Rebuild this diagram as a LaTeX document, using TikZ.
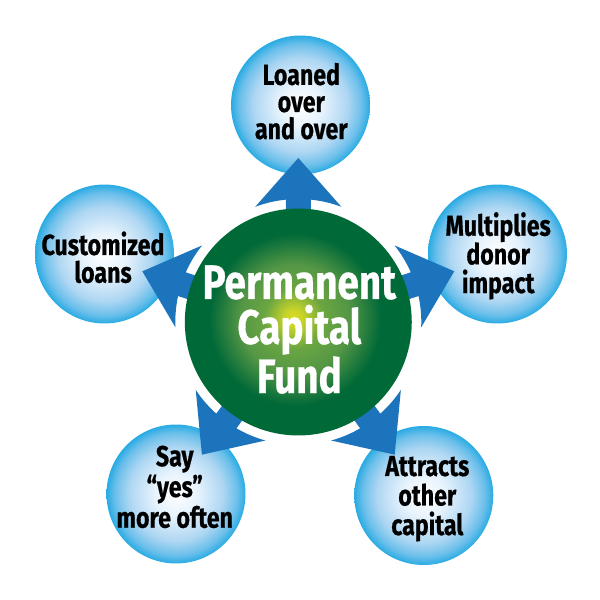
\documentclass[tikz,border=0pt]{standalone}
\usepackage{fontspec}
\setmainfont[FakeStretch=0.8, BoldFeatures={FakeBold=0.6}]{Fira Sans}
\usetikzlibrary{calc}
\definecolor{arrowblue}{RGB}{28,117,188}
\pgfdeclareradialshading{bubble}{\pgfpointorigin}{
  rgb(0bp)=(1,1,1);
  rgb(8bp)=(0.90,0.95,0.99);
  rgb(17bp)=(0.68,0.84,0.95);
  rgb(22bp)=(0.42,0.75,0.92);
  rgb(25bp)=(0.16,0.67,0.89);
  rgb(50bp)=(0.16,0.67,0.89)}
\pgfdeclareradialshading{glow}{\pgfpoint{-1.1bp}{0.9bp}}{
  rgb(0bp)=(0.87,0.87,0.12);
  rgb(2bp)=(0.78,0.83,0.16);
  rgb(6.5bp)=(0.42,0.65,0.26);
  rgb(12bp)=(0.33,0.59,0.27);
  rgb(19bp)=(0,0.41,0.22);
  rgb(50bp)=(0,0.41,0.22)}
\tikzset{
  bubble/.style={circle, minimum size=2.78cm, inner sep=0pt, shading=bubble},
  bubbletext/.style={anchor=base, align=center, font=\bfseries\fontsize{16.5}{#1}\selectfont},
  fund/.style={circle, minimum size=4.54cm, inner sep=0pt, shading=glow},
  fundtext/.style={anchor=base, align=center, text=white, font=\bfseries\fontsize{27.5}{25.6}\selectfont},
  arrowfill/.style={fill=arrowblue}
}
\begin{document}
\begin{tikzpicture}[x=0.02cm, y=0.02cm]
  \useasboundingbox (0, 0) rectangle (600, 600);
  \coordinate (C) at (298.3, 278);
  \node[bubble] (loaned) at (300.5, 495) {};
  \node[bubble] (multiplies) at (497.5, 346) {};
  \node[bubble] (attracts) at (423.8, 104.5) {};
  \node[bubble] (say) at (176, 106) {};
  \node[bubble] (customized) at (104.5, 346) {};
  \node[bubbletext=15.4] (loanedtext) at ($(loaned) + (0.8, -34)$) {Loaned\\over\\and over};
  \node[bubbletext=16.3] (multipliestext) at ($(multiplies) + (0.7, -39)$) {Multiplies\\donor\\impact};
  \node[bubbletext=16.8] (attractstext) at ($(attracts) + (3.5, -39.5)$) {Attracts\\other\\capital};
  \node[bubbletext=17.5] (saytext) at ($(say) + (-1.3, -33.7)$) {Say\\“yes”\\more often};
  \node[bubbletext=15.8] (customizedtext) at ($(customized) + (-1.5, -28.7)$) {Customized\\loans};
  \foreach \dir in {90, 162, 234, 306, 18} {
    \fill[arrowfill] ($(C) + (\dir:164)$) -- ($(C) + (\dir + 20.5:123)$)
      arc (\dir + 20.5:\dir + 5.83:123) -- ($(C) + (\dir + 6.8:105)$)
      -- ($(C) + (\dir - 6.8:105)$) -- ($(C) + (\dir - 5.83:123)$)
      arc (\dir - 5.83:\dir - 20.5:123) -- cycle;
  }
  \node[fund] (capital) at (C) {};
  \node[fundtext] (capitaltext) at ($(capital) + (1, -71)$) {Permanent\\Capital\\Fund};
\end{tikzpicture}
\end{document}
